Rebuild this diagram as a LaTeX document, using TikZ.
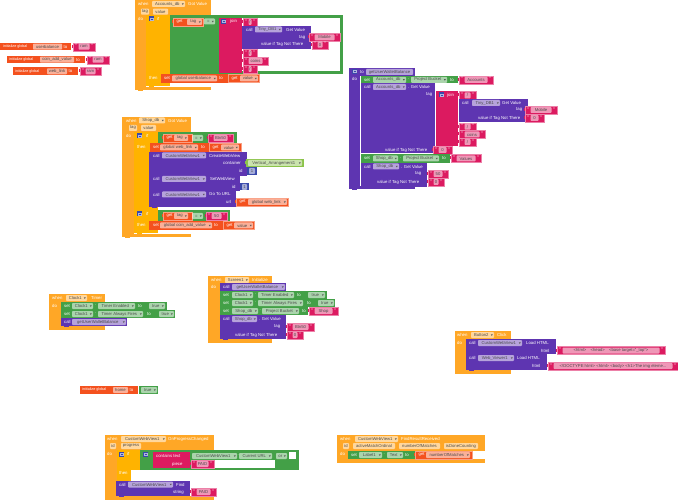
\documentclass[tikz,border=0pt]{standalone}
\usepackage{fontspec}
\setmainfont{Liberation Sans}
\definecolor{evt}{HTML}{FFA726}
\definecolor{ctl}{HTML}{FFB300}
\definecolor{prc}{HTML}{5E35B1}
\definecolor{pnk}{HTML}{DC1A60}
\definecolor{grn}{HTML}{43A047}
\definecolor{red}{HTML}{F4511E}
\definecolor{blu}{HTML}{3949AB}
\definecolor{lim}{HTML}{8BC34A}
\tikzset{
  lbl/.style={anchor=west,inner sep=0pt,text=white,font=\fontsize{4.3}{5}\selectfont},
  chiptxt/.style={inner sep=0pt,text=black!70,font=\fontsize{4.2}{5}\selectfont},
  chipbg/.style={fill=white,fill opacity=.55,rounded corners=.8pt},
  tick/.style={fill=black!65}
}
\newcount\nc
\newcommand\Bk[5]{\fill[#1] (#2,#3) rectangle (#4,#5);}
\newcommand\Tx[3]{\global\advance\nc by 1 \node[lbl] (n\the\nc) at (#1,#2) {#3};}
\newcommand\Ig[2]{\Tx{#1}{#2}{\fontsize{3.7}{5}\selectfont initialize global}}
% chip without and with a drop-down mark: x0 x1 cy text
\newcommand\Cn[4]{\global\advance\nc by 1
  \fill[chipbg] (#1,{#3-3}) rectangle (#2,{#3+3});
  \node[chiptxt] (n\the\nc) at ({(#1+#2)/2},#3) {#4};}
\newcommand\Ch[4]{\global\advance\nc by 1
  \fill[chipbg] (#1,{#3-3}) rectangle (#2,{#3+3});
  \node[chiptxt] (n\the\nc) at ({(#1+#2)/2-1.2},#3) {#4};
  \fill[tick] ({#2-3.2},{#3-.6}) -- ({#2-1.2},{#3-.6}) -- ({#2-2.2},{#3+.9}) -- cycle;}
% string block: x0 x1 cy text
\newcommand\Str[4]{\fill[pnk] ({#1-1.5},{#3-2}) rectangle (#1,{#3+1});
  \filldraw[fill=pnk,draw=pnk!55!white,line width=.3pt] (#1,{#3-4}) rectangle (#2,{#3+4});
  \Cn{#1+5.5}{#2-5.5}{#3}{#4}
  \Tx{#1+2}{#3-.6}{\fontsize{5}{5}\selectfont"}\Tx{#2-4}{#3-.6}{\fontsize{5}{5}\selectfont"}}
% get block: x0 x1 cy
\newcommand\Gt[3]{\fill[red] ({#1-1.5},{#3-2}) rectangle (#1,{#3+1});
  \filldraw[fill=red,draw=red!55!white,line width=.3pt] (#1,{#3-4}) rectangle (#2,{#3+4});\Tx{#1+3.5}{#3}{get}}
\newcommand\Ic[2]{\fill[blu] (#1,{#2-2.5}) rectangle ({#1+5},{#2+2.5}); \draw[white,opacity=.6,line width=.4pt] ({#1+1.2},{#2-1.2}) rectangle ({#1+3.8},{#2+1.2});}
% small bump under a statement block: colour x y
\newcommand\Nt[3]{\fill[#1] (#2,#3) rectangle ({#2+5},{#3+1.2});}
\begin{document}
\begin{tikzpicture}[x=1pt,y=-1pt]
\useasboundingbox (0,0) rectangle (678,500);
\fill[white] (0,0) rectangle (678,500);

% ---------- Accounts_db Got Value
\Bk{evt}{135}{0}{211}{15}\Bk{evt}{135}{0}{146}{90}\Bk{evt}{135}{87}{211}{90}
\Tx{138}{4}{when}\Ch{152}{185}{4}{Accounts\_db}\Tx{188}{4}{Got Value}
\Cn{141}{149}{11.7}{tag}\Cn{153}{168}{11.7}{value}\Tx{138}{19}{do}
\Bk{ctl}{146}{15}{170}{86}\Ic{149}{19}\Tx{157}{19}{if}\Tx{149}{78}{then}
\Bk{grn}{170}{15}{343}{74}\Bk{white}{219}{18}{340}{71}
\Bk{pnk}{219}{18}{242}{73}
\Gt{173}{203}{22}\Ch{187}{202}{22}{tag}\Ch{204}{215}{21.5}{=}
\Ic{221}{21.5}\Tx{230}{21.5}{join}
\Str{243}{257}{22}{/}
\Bk{prc}{242}{26}{311}{49}\Tx{246}{29.5}{call}\Ch{255}{282}{29.5}{Tiny\_DB1}\Tx{286}{29.5}{Get Value}
\Tx{299}{37.3}{tag}\Str{309}{340}{37.3}{Mobile}
\Tx{261}{44.7}{value if Tag Not There}\Str{312}{328}{44.7}{0}
\Str{243}{257}{53}{/}\Str{243}{268}{61}{coins}\Str{243}{257}{69}{/}
\Bk{red}{161}{74}{228}{83}\Tx{164}{78.5}{set}\Ch{172}{217}{78.5}{global userbalance}\Tx{219}{78.5}{to}
\Gt{228}{259}{78.5}\Ch{240}{258}{78.5}{value}
\Nt{ctl}{149}{86}\Nt{evt}{138}{90}

% ---------- initialize globals
\Bk{red}{0}{43}{71}{50.5}\Ig{3}{46.7}\Cn{33}{62}{46.7}{userbalance}\Tx{63.5}{46.7}{to}\Str{73}{95}{46.7}{ram}
\Bk{red}{7}{56}{85}{63.5}\Ig{9}{59.7}\Cn{40}{74}{59.7}{coin\_add\_value}\Tx{76}{59.7}{to}\Str{87}{109}{59.7}{ram}
\Bk{red}{13}{67.5}{78}{75}\Ig{15}{71.3}\Cn{47}{67}{71.3}{web\_link}\Tx{68.5}{71.3}{to}\Str{80}{101}{71.3}{ram}

% ---------- getUserWalletBalance
\Bk{prc}{349}{68}{415}{76}\Bk{prc}{349}{68}{360}{189}\Bk{prc}{349}{186}{415}{189}
\Ic{352}{71.5}\Tx{360}{72}{to}\Cn{366}{413}{72}{getUserWalletBalance}\Tx{352}{79}{do}
\Bk{grn}{361}{76}{458}{83.5}\Tx{364}{79.8}{set}\Ch{373}{406}{79.8}{Accounts\_db}\Tx{408}{79.3}{.}\Ch{411}{447}{79.8}{Project Bucket}\Tx{450}{79.8}{to}
\Str{459}{493}{79.8}{Accounts}
\Bk{prc}{361}{83.5}{435}{153}\Tx{364}{87}{call}\Ch{373}{406}{87}{Accounts\_db}\Tx{408}{87}{. Get Value}
\Tx{426}{95}{tag}\Bk{pnk}{436}{91}{458}{146}\Ic{439}{95}\Tx{447}{95}{join}
\Str{459}{476}{95.5}{/}
\Bk{prc}{459}{99.5}{528}{122}\Tx{462}{103}{call}\Ch{472}{500}{103}{Tiny\_DB1}\Tx{502}{103}{Get Value}
\Tx{516}{110}{tag}\Str{525}{557}{110}{Mobile}
\Tx{478}{118}{value if Tag Not There}\Str{525}{544}{118}{0}
\Str{459}{476}{126.7}{/}\Str{459}{485}{134.5}{coins}\Str{459}{476}{142}{/}
\Tx{385}{150}{value if Tag Not There}\Str{433}{452}{150}{0}
\Bk{grn}{361}{154}{450}{163}\Tx{364}{158.5}{set}\Ch{373}{398}{158.5}{Shop\_db}\Tx{400}{158}{.}\Ch{403}{439}{158.5}{Project Bucket}\Tx{442}{158.5}{to}
\Str{451}{481}{158.5}{Values}
\Bk{prc}{361}{163}{427}{187}\Tx{364}{166.5}{call}\Ch{373}{399}{166.5}{Shop\_db}\Tx{401}{166.5}{. Get Value}
\Tx{415}{174}{tag}\Str{428}{448}{174}{50}
\Tx{377}{182}{value if Tag Not There}\Str{428}{444}{182}{0}
\Nt{prc}{352}{189}

% ---------- Shop_db Got Value
\Bk{evt}{122}{117}{191}{132}\Bk{evt}{122}{117}{134}{237}\Bk{evt}{122}{234}{191}{237}
\Tx{126}{120.5}{when}\Ch{139}{165}{120.5}{Shop\_db}\Tx{168}{120.5}{Got Value}
\Cn{129}{137}{128}{tag}\Cn{141}{156}{128}{value}\Tx{126}{136}{do}
\Bk{ctl}{134}{132}{158}{210}\Ic{137}{136}\Tx{146}{136}{if}\Tx{137}{147}{then}
\Bk{grn}{158}{132}{237}{143}\Gt{163}{192}{138}\Ch{174}{188}{138}{tag}\Ch{192}{203}{138}{=}\Str{208}{233}{138}{Btn50}
\Bk{red}{150}{143}{209}{152}\Tx{153}{147.5}{set}\Ch{160}{198}{147.5}{global web\_link}\Tx{201}{147.5}{to}\Gt{209}{241}{147.5}\Ch{221}{239}{147.5}{value}
\Bk{prc}{149}{152}{247}{176}\Tx{153}{155.5}{call}\Ch{162}{206}{155.5}{CustomWebView1}\Tx{209}{155.5}{CreateWebView}
\Tx{223}{163}{container}\Bk{lim}{246}{159}{304}{167}\Bk{lim}{244.5}{161}{246}{164}\Ch{248}{302}{163}{Vertical\_Arrangement1}
\Tx{239}{171}{id}\Bk{blu}{247}{167.5}{257}{175}\Cn{249}{255}{171}{1}
\Bk{prc}{149}{176}{240}{191}\Tx{153}{179}{call}\Ch{162}{206}{179}{CustomWebView1}\Tx{210}{179}{SetWebView}
\Tx{232}{187}{id}\Bk{blu}{240}{183}{249}{190.5}\Cn{242}{247}{187}{1}
\Bk{prc}{149}{191}{236}{207}\Tx{153}{194.5}{call}\Ch{162}{206}{194.5}{CustomWebView1}\Tx{209}{194.5}{Go To URL}
\Tx{226}{202}{url}\Gt{236}{288}{202}\Ch{248}{287}{202}{global web\_link}
\Bk{ctl}{134}{210}{158}{233}\Ic{137}{214}\Tx{146}{214}{if}\Tx{137}{225}{then}
\Bk{grn}{158}{210}{230}{221}\Gt{163}{192}{216}\Ch{174}{188}{216}{tag}\Ch{192}{203}{216}{=}\Str{206}{227}{216}{50}
\Bk{red}{149}{221}{223}{230}\Tx{153}{225.5}{set}\Ch{160}{212}{225.5}{global coin\_add\_value}\Tx{214}{225.5}{to}\Gt{223}{254}{225.5}\Ch{234}{253}{225.5}{value}
\Nt{prc}{152}{207}\Nt{ctl}{137}{233}\Nt{evt}{125}{237}

% ---------- Clock1 Timer
\Bk{evt}{49}{294}{105}{302}\Bk{evt}{49}{294}{61}{330}\Bk{evt}{49}{326}{105}{330}
\Tx{52}{298}{when}\Ch{66}{87}{298}{Clock1}\Tx{91}{298}{Timer}\Tx{52}{305.5}{do}
\Bk{grn}{61}{302}{167}{310}\Tx{64}{306}{set}\Ch{72}{93}{306}{Clock1}\Tx{95}{305.5}{.}\Ch{98}{135}{306}{Timer Enabled}\Tx{138}{306}{to}\Ch{149}{165}{306}{true}
\Bk{grn}{61}{310}{175}{318}\Tx{64}{314}{set}\Ch{72}{93}{314}{Clock1}\Tx{95}{313.5}{.}\Ch{98}{143}{314}{Timer Always Fires}\Tx{147}{314}{to}\Ch{159}{174}{314}{true}
\Bk{prc}{61}{318}{127}{326}\Tx{64}{322}{call}\Ch{72}{126}{322}{getUserWalletBalance}
\Nt{prc}{64}{326}

% ---------- Screen1 Initialize
\Bk{evt}{208}{276}{272}{283}\Bk{evt}{208}{276}{220}{343}\Bk{evt}{208}{339}{272}{343}
\Tx{211}{280}{when}\Ch{225}{249}{280}{Screen1}\Tx{252}{280}{Initialize}\Tx{211}{287}{do}
\Bk{prc}{220}{283}{286}{291}\Tx{223}{287}{call}\Ch{232}{285}{287}{getUserWalletBalance}
\Bk{grn}{220}{291}{327}{299}\Tx{223}{295}{set}\Ch{232}{253}{295}{Clock1}\Tx{255}{294.5}{.}\Ch{258}{294}{295}{Timer Enabled}\Tx{297}{295}{to}\Ch{308}{325}{295}{true}
\Bk{grn}{220}{299}{335}{307}\Tx{223}{303}{set}\Ch{232}{253}{303}{Clock1}\Tx{255}{302.5}{.}\Ch{258}{303}{303}{Timer Always Fires}\Tx{307}{303}{to}\Ch{318}{334}{303}{true}
\Bk{grn}{220}{307}{308}{315}\Tx{223}{311}{set}\Ch{232}{258}{311}{Shop\_db}\Tx{259.5}{310.5}{.}\Ch{262}{299}{311}{Project Bucket}\Tx{302}{311}{to}\Str{309}{338}{311}{Shop}
\Bk{prc}{220}{315}{286}{339}\Tx{223}{319}{call}\Ch{232}{257}{319}{Shop\_db}\Tx{259}{319}{. Get Value}
\Tx{274}{327}{tag}\Str{287}{314}{327}{Btn50}
\Tx{235}{335}{value if Tag Not There}\Str{287}{303}{335}{0}
\Nt{prc}{223}{339}

% ---------- home
\Bk{red}{80}{386}{138}{394}\Ig{82}{390}\Cn{113}{128}{390}{home}\Tx{129.5}{390}{to}
\Bk{grn}{139}{386}{158}{394}\Ch{141}{157}{390}{true}

% ---------- Button2 Click
\Bk{evt}{455}{331}{511}{339}\Bk{evt}{455}{331}{466}{374}\Bk{evt}{455}{370}{511}{374}
\Tx{457}{335}{when}\Ch{471}{494}{335}{Button2}\Tx{497}{335}{Click}\Tx{457}{342.5}{do}
\Bk{prc}{466}{339}{556}{354}\Tx{469}{343}{call}\Ch{478}{522}{343}{CustomWebView1}\Tx{526}{343}{Load HTML}
\Tx{541}{350.5}{html}\Str{557}{665}{350.5}{<html>\quad <head>\quad <base target="\_top">}
\Bk{prc}{466}{354}{547}{370}\Tx{469}{358}{call}\Ch{478}{514}{358}{Web\_Viewer1}\Tx{517}{358}{Load HTML}
\Tx{532}{366}{html}\Str{548}{678}{366}{<!DOCTYPE html> <html> <body> <h1>The img eleme...}
\Nt{prc}{469}{370}

% ---------- OnProgressChanged
\Bk{evt}{105}{435}{214}{450}\Bk{evt}{105}{435}{117}{500}\Bk{evt}{105}{496}{214}{500}
\Tx{107}{439}{when}\Ch{121}{166}{439}{CustomWebView1}\Tx{168}{439}{OnProgressChanged}
\Cn{110}{116}{446}{id}\Cn{121}{141}{446}{progress}\Tx{107}{454}{do}
\Bk{ctl}{117}{450}{140}{470}\Bk{ctl}{117}{470}{131}{481}\Ic{119}{454}\Tx{127}{454}{if}\Tx{119}{473}{then}
\Bk{grn}{140}{450}{299}{470}\Ic{143}{454}
\Bk{pnk}{153}{452}{190}{468}\Tx{156}{456}{contains text}\Tx{172}{464}{piece}
\Bk{white}{214}{460}{275}{468}
\Bk{grn}{190}{452}{273}{460}\Ch{192}{237}{456}{CustomWebView1}\Tx{237.5}{455.5}{.}\Ch{239}{272}{456}{Current URL}
\Str{191}{214}{464}{PAID}
\Ch{276}{287}{456}{or}\Bk{white}{289}{452}{296}{459}
\Bk{prc}{116}{481}{190}{496}\Tx{119}{484.5}{call}\Ch{128}{173}{484.5}{CustomWebView1}\Tx{176}{484.5}{Find}
\Tx{173}{492}{string}\Str{191}{216}{492}{PAID}
\Nt{prc}{119}{496}

% ---------- FindResultReceived
\Bk{evt}{337}{435}{485}{451}\Bk{evt}{337}{435}{348}{463}\Bk{evt}{337}{459}{485}{463}
\Tx{340}{439}{when}\Ch{355}{398}{439}{CustomWebView1}\Tx{401}{439}{FindResultReceived}
\Cn{343}{349}{446}{id}\Cn{353}{395}{446}{activeMatchOrdinal}\Cn{399}{440}{446}{numberOfMatches}\Cn{444}{478}{446}{isDoneCounting}\Tx{340}{454}{do}
\Bk{grn}{348}{451}{415}{459}\Tx{351}{455}{set}\Ch{359}{382}{455}{Label1}\Tx{383.5}{454.5}{.}\Ch{387}{403}{455}{Text}\Tx{405}{455}{to}
\Gt{415}{472}{455}\Ch{426}{470}{455}{numberOfMatches}
\end{tikzpicture}
\end{document}
